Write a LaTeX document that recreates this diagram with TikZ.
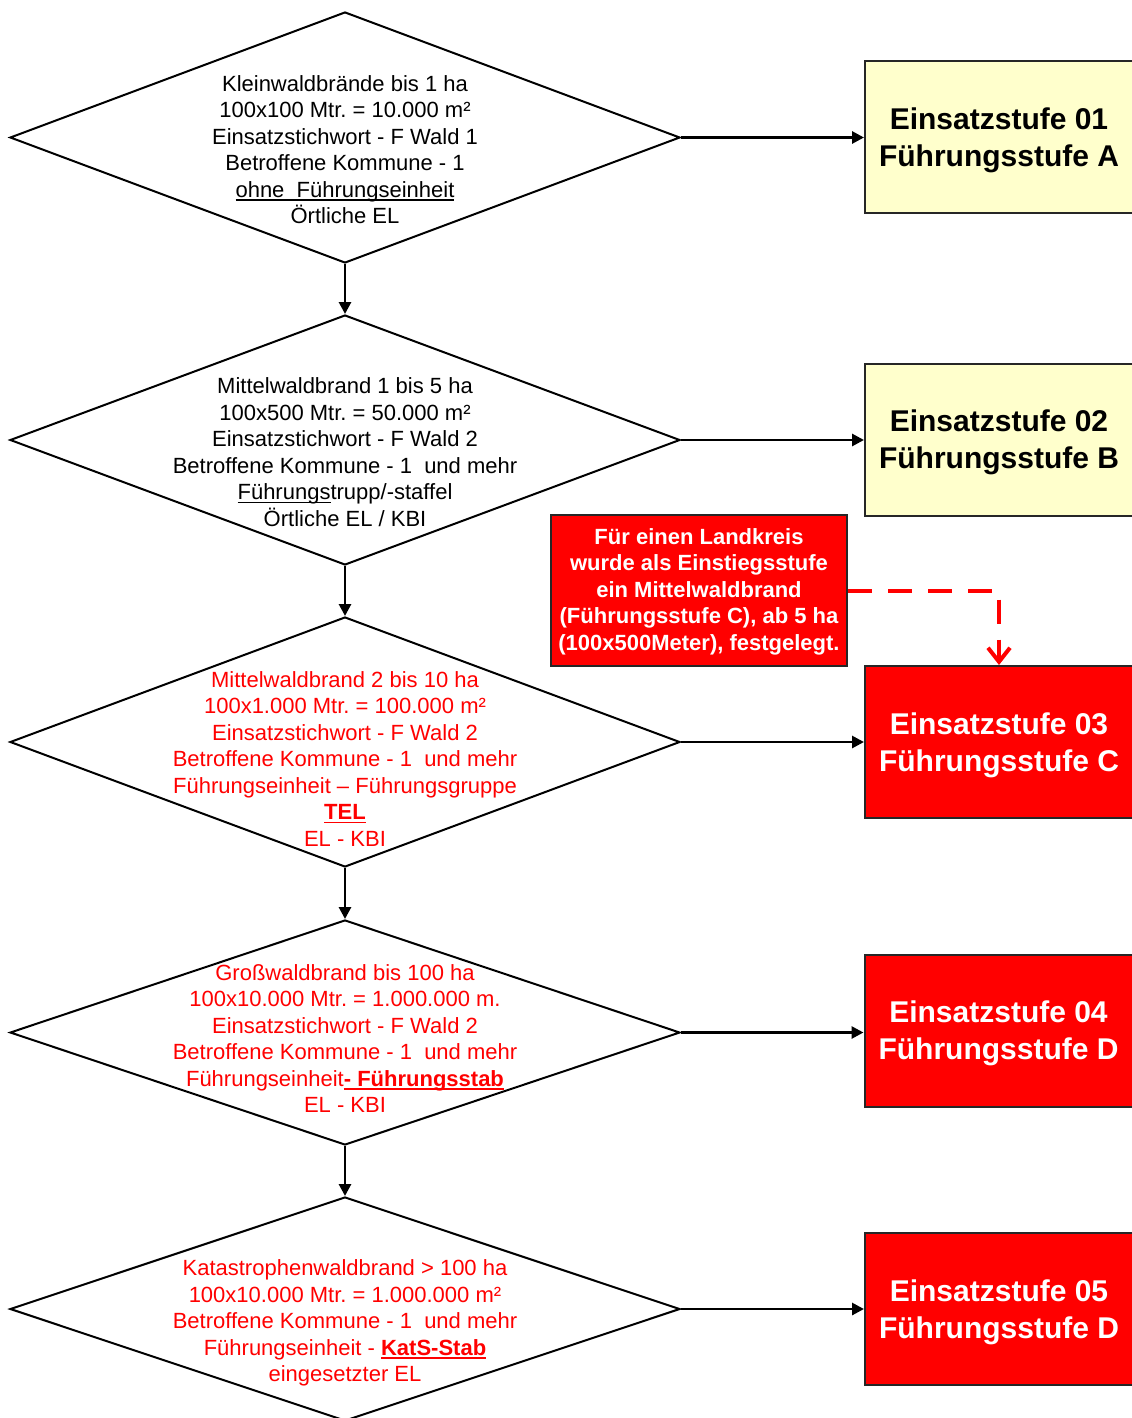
\documentclass[tikz,border=0pt]{standalone}
\usepackage{fontspec}
\setmainfont{Liberation Sans}
\usetikzlibrary{shapes.geometric,arrows.meta}
\definecolor{boxyellow}{HTML}{FFFFCC}
\definecolor{firered}{HTML}{FF0000}
\definecolor{edgegray}{HTML}{262626}
\newsavebox{\ulinebox}
\newcommand{\myul}[1]{\leavevmode\sbox{\ulinebox}{#1}\rlap{\rule[-1.7pt]{\wd\ulinebox}{0.7pt}}\usebox{\ulinebox}}
\frenchspacing
\begin{document}
\begin{tikzpicture}[x=0.5pt,y=-0.5pt,
  dia/.style={draw=black, line width=1pt, shape=diamond, inner sep=0pt, minimum width=335pt},
  dtext/.style={align=center, font=\fontsize{11}{13.25}\selectfont, inner sep=0pt},
  stage/.style={draw=edgegray, line width=1pt, minimum width=134pt, minimum height=76pt, inner sep=0pt},
  yellowstage/.style={stage, fill=boxyellow},
  redstage/.style={stage, fill=firered},
  stagetext/.style={align=center, font=\fontsize{15}{18.5}\selectfont\bfseries, inner sep=0pt, yshift=-1.5pt},
  notebox/.style={draw=edgegray, line width=1pt, fill=firered, text=white, minimum width=148pt, minimum height=75.5pt, align=center, font=\fontsize{11}{13.25}\selectfont\bfseries, inner sep=0pt, text depth=1pt},
  flow/.style={line width=1.4pt, -{Triangle[length=6pt,width=6pt]}},
  dashflow/.style={draw=firered, line width=2pt, dash pattern=on 12pt off 8pt, -{Straight Barb[length=7pt,width=11pt,line width=2pt]}}
]
\useasboundingbox (0,0) rectangle (1131,1418);

% diamonds
\node[dia, minimum height=125.5pt] (d1) at (345,137.5) {};
\node[dia, minimum height=125pt] (d2) at (345,440) {};
\node[dia, minimum height=125pt] (d3) at (345,742) {};
\node[dia, minimum height=112.5pt] (d4) at (345,1032.5) {};
\node[dia, minimum height=112pt] (d5) at (345,1309) {};

% diamond texts
\node[dtext, yshift=-6pt] (t1) at (d1.center) {Kleinwaldbrände bis 1 ha\\ 100x100 Mtr. = 10.000 m²\\ Einsatzstichwort - F Wald 1\\ Betroffene Kommune - 1\\ \myul{ohne\ \ Führungseinheit}\\ Örtliche EL};
\node[dtext, yshift=-6pt] (t2) at (d2.center) {Mittelwaldbrand 1 bis 5 ha\\ 100x500 Mtr. = 50.000 m²\\ Einsatzstichwort - F Wald 2\\ Betroffene Kommune - 1\ \ und mehr\\ \myul{Führungs}trupp/-staffel\\ Örtliche EL / KBI};
\node[dtext, text=firered, yshift=-8.5pt] (t3) at (d3.center) {Mittelwaldbrand 2 bis 10 ha\\ 100x1.000 Mtr. = 100.000 m²\\ Einsatzstichwort - F Wald 2\\ Betroffene Kommune - 1\ \ und mehr\\ Führungseinheit – Führungsgruppe\\ \myul{\textbf{TEL}}\\ EL - KBI};
\node[dtext, text=firered, yshift=-3pt] (t4) at (d4.center) {Großwaldbrand bis 100 ha\\ 100x10.000 Mtr. = 1.000.000 m.\\ Einsatzstichwort - F Wald 2\\ Betroffene Kommune - 1\ \ und mehr\\ Führungseinheit\myul{\textbf{- Führungsstab}}\\ EL - KBI};
\node[dtext, text=firered, yshift=-7pt] (t5) at (d5.center) {Katastrophenwaldbrand > 100 ha\\ 100x10.000 Mtr. = 1.000.000 m²\\ Betroffene Kommune - 1\ \ und mehr\\ Führungseinheit - \myul{\textbf{KatS-Stab}}\\ eingesetzter EL};

% stage boxes
\node[yellowstage] (b1) at (999,137) {};
\node[yellowstage] (b2) at (999,439.5) {};
\node[redstage] (b3) at (999,742) {};
\node[redstage] (b4) at (998.5,1030.5) {};
\node[redstage] (b5) at (999,1309) {};
\node[stagetext, text=black] (s1) at (b1.center) {Einsatzstufe 01\\ Führungsstufe A};
\node[stagetext, text=black] (s2) at (b2.center) {Einsatzstufe 02\\ Führungsstufe B};
\node[stagetext, text=white] (s3) at (b3.center) {Einsatzstufe 03\\ Führungsstufe C};
\node[stagetext, text=white] (s4) at (b4.center) {Einsatzstufe 04\\ Führungsstufe D};
\node[stagetext, text=white] (s5) at (b5.center) {Einsatzstufe 05\\ Führungsstufe D};

% note
\node[notebox] (note) at (699,590.5) {Für einen Landkreis\\ wurde als Einstiegsstufe\\ ein Mittelwaldbrand\\ (Führungsstufe C), ab 5 ha\\ (100x500Meter), festgelegt.};

% connectors
\draw[flow] (d1.south) -- (d2.north);
\draw[flow] (d2.south) -- (d3.north);
\draw[flow] (d3.south) -- (d4.north);
\draw[flow] (d4.south) -- (d5.north);
\draw[flow] (d1.east) -- (d1.east -| b1.west);
\draw[flow] (d2.east) -- (d2.east -| b2.west);
\draw[flow] (d3.east) -- (d3.east -| b3.west);
\draw[flow] (d4.east) -- (d4.east -| b4.west);
\draw[flow] (d5.east) -- (d5.east -| b5.west);
\draw[dashflow] (note.east) -| (b3.north);
\end{tikzpicture}
\end{document}
